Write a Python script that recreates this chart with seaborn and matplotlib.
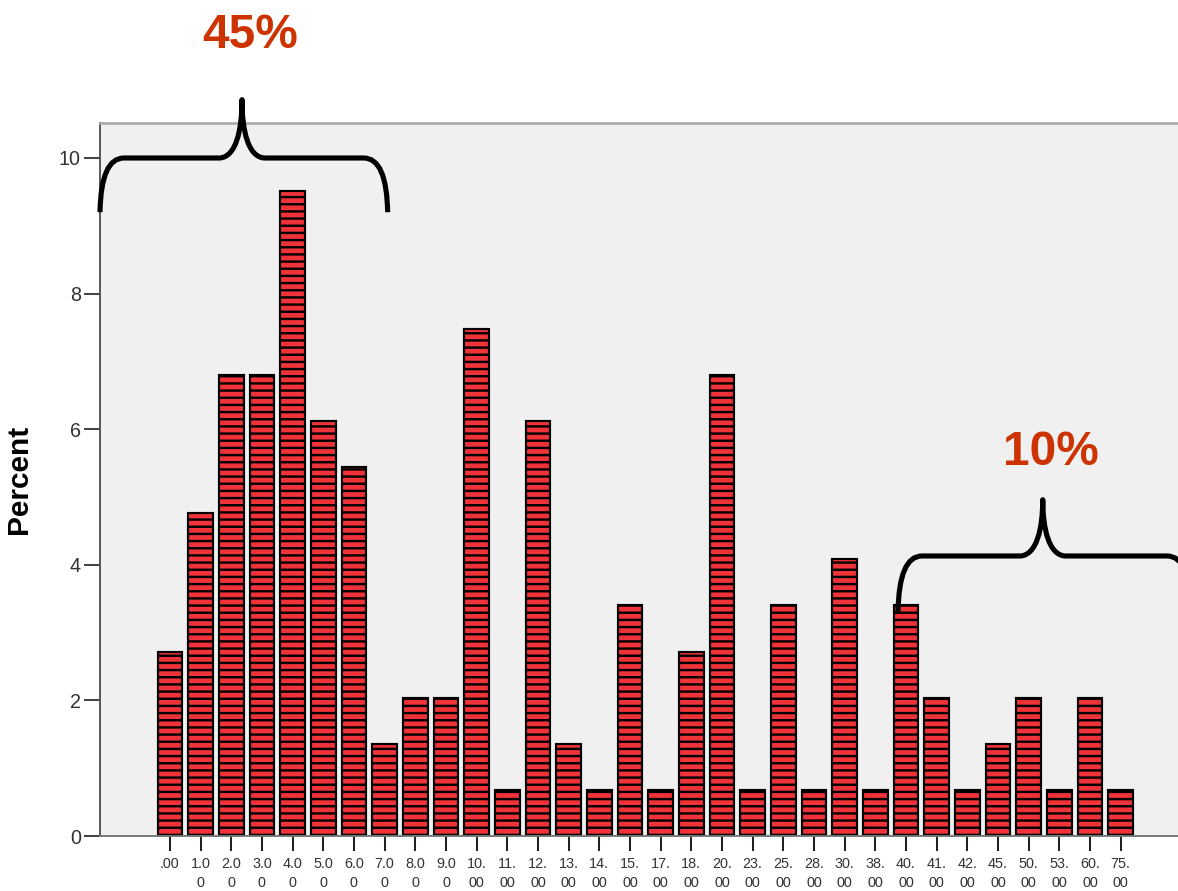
import pandas as pd
import numpy as np
import matplotlib
matplotlib.use("Agg")
import matplotlib.pyplot as plt
import seaborn as sns
from matplotlib.path import Path
from matplotlib.patches import PathPatch

# values (answer categories) and their percentages, n = 147
values = [".00", "1.00", "2.00", "3.00", "4.00", "5.00", "6.00", "7.00", "8.00", "9.00",
          "10.00", "11.00", "12.00", "13.00", "14.00", "15.00", "17.00", "18.00", "20.00",
          "23.00", "25.00", "28.00", "30.00", "38.00", "40.00", "41.00", "42.00", "45.00",
          "50.00", "53.00", "60.00", "75.00"]
percent = [2.72, 4.76, 6.80, 6.80, 9.52, 6.12, 5.44, 1.36, 2.04, 2.04,
           7.48, 0.68, 6.12, 1.36, 0.68, 3.40, 0.68, 2.72, 6.80,
           0.68, 3.40, 0.68, 4.08, 0.68, 3.40, 2.04, 0.68, 1.36,
           2.04, 0.68, 2.04, 0.68]
# SPSS wraps the labels in two lines
tick_labels = [".00", "1.0\n0", "2.0\n0", "3.0\n0", "4.0\n0", "5.0\n0", "6.0\n0", "7.0\n0",
               "8.0\n0", "9.0\n0", "10.\n00", "11.\n00", "12.\n00", "13.\n00", "14.\n00",
               "15.\n00", "17.\n00", "18.\n00", "20.\n00", "23.\n00", "25.\n00", "28.\n00",
               "30.\n00", "38.\n00", "40.\n00", "41.\n00", "42.\n00", "45.\n00", "50.\n00",
               "53.\n00", "60.\n00", "75.\n00"]

df = pd.DataFrame({"Value": values, "Percent": percent})

DPI = 86
plt.rcParams["font.family"] = ["Liberation Sans", "DejaVu Sans"]
plt.rcParams["hatch.linewidth"] = 2.0
plt.rcParams["hatch.color"] = "black"

fig = plt.figure(figsize=(1178 / DPI, 891 / DPI), dpi=DPI)
ax = fig.add_axes([100 / 1178, 1 - 836 / 891, 1 - 100 / 1178, (836 - 123) / 891])
ax.set_facecolor("#f0f0f0")

sns.barplot(data=df, x="Value", y="Percent", color="#ef3338", saturation=1,
            edgecolor="black", linewidth=1.8, hatch="--", width=0.8, ax=ax)

ax.set_xlim(-2.28, 32.87)
ax.set_ylim(0, 10.516)
ax.set_yticks([0, 2, 4, 6, 8, 10])
ax.set_xticks(range(len(values)))
ax.set_xticklabels(tick_labels, fontsize=12, color="#333333", linespacing=1.45)
ax.tick_params(axis="y", labelsize=16.5, labelcolor="#333333", length=13, width=1.7,
               color="#444444", pad=3)
ax.tick_params(axis="x", length=12.5, width=1.7, color="#222222", pad=5)
ax.set_xlabel("")
ax.set_ylabel("Percent", fontsize=25, fontweight="bold", labelpad=22)

ax.spines["right"].set_visible(False)
ax.spines["top"].set_color("#a8a8a8")
ax.spines["top"].set_linewidth(2.2)
ax.spines["left"].set_color("#555555")
ax.spines["left"].set_linewidth(1.6)
ax.spines["bottom"].set_color("#777777")
ax.spines["bottom"].set_linewidth(1.6)


def brace(ax, x_left, x_right, x_tip, y_end, y_bar, y_tip, dx=0.78, dxt=0.72):
    verts = [
        (x_left, y_end),
        (x_left + 0.03, y_bar), (x_left + dx, y_bar),
        (x_tip - dxt, y_bar),
        (x_tip - 0.2, y_bar + 0.02), (x_tip, y_bar + 0.4), (x_tip, y_tip),
        (x_tip, y_bar + 0.4), (x_tip + 0.2, y_bar + 0.02), (x_tip + dxt, y_bar),
        (x_right - dx, y_bar),
        (x_right - 0.03, y_bar), (x_right, y_end),
    ]
    codes = [Path.MOVETO, Path.CURVE3, Path.CURVE3, Path.LINETO,
             Path.CURVE4, Path.CURVE4, Path.CURVE4,
             Path.CURVE4, Path.CURVE4, Path.CURVE4, Path.LINETO,
             Path.CURVE3, Path.CURVE3]
    ax.add_patch(PathPatch(Path(verts, codes), facecolor="none", edgecolor="black",
                           linewidth=4.3, capstyle="butt", joinstyle="round",
                           clip_on=False, zorder=5))


# brace over the first eight bars and over the top tail
brace(ax, -2.28, 7.1, 2.35, 9.2, 10.0, 10.86)
brace(ax, 23.74, 33.3, 28.46, 3.30, 4.13, 4.96)

ax.text(2.61, 11.62, "45%", fontsize=40, fontweight="bold", color="#cc3300",
        ha="center", va="baseline", clip_on=False)
ax.text(28.73, 5.47, "10%", fontsize=40, fontweight="bold", color="#cc3300",
        ha="center", va="baseline", clip_on=False)

fig.savefig("out.png", dpi=DPI)
